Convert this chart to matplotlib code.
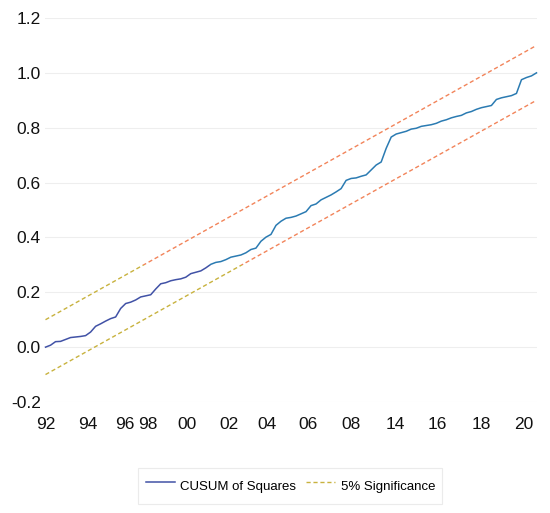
import numpy as np
import matplotlib
matplotlib.use("Agg")
import matplotlib.pyplot as plt
from matplotlib.patches import Rectangle
from matplotlib.lines import Line2D

plt.rcParams['font.family'] = ['Liberation Sans Narrow', 'Liberation Sans', 'DejaVu Sans']

cusum = [0.000, 0.007, 0.020, 0.021, 0.028, 0.035, 0.037, 0.039, 0.042, 0.055,
         0.076, 0.085, 0.095, 0.104, 0.110, 0.141, 0.159, 0.164, 0.172, 0.183,
         0.187, 0.191, 0.212, 0.231, 0.235, 0.242, 0.246, 0.249, 0.255, 0.268,
         0.273, 0.278, 0.289, 0.302, 0.309, 0.312, 0.319, 0.328, 0.332, 0.336,
         0.344, 0.356, 0.361, 0.386, 0.401, 0.411, 0.444, 0.459, 0.470, 0.473,
         0.478, 0.486, 0.494, 0.516, 0.522, 0.537, 0.546, 0.555, 0.566, 0.578,
         0.608, 0.615, 0.617, 0.623, 0.628, 0.646, 0.664, 0.675, 0.725, 0.766,
         0.777, 0.782, 0.787, 0.795, 0.798, 0.805, 0.808, 0.811, 0.816, 0.824,
         0.829, 0.836, 0.841, 0.845, 0.854, 0.859, 0.867, 0.873, 0.877, 0.881,
         0.903, 0.909, 0.913, 0.917, 0.925, 0.975, 0.983, 0.989, 1.000]
band_c = 0.1
tick_labels = ["92", "94", "96", "98", "00", "02", "04", "06", "08", "14", "16", "18", "20"]
tick_obs = [0, 8.4, 15.9, 20.4, 28.2, 36.7, 44.2, 52.4, 61.0, 69.9, 78.2, 87.0, 95.5]
yticks = [-0.2, 0.0, 0.2, 0.4, 0.6, 0.8, 1.0, 1.2]

n = len(cusum)
obs = np.arange(n)
expected = obs / (n - 1)
upper = expected + band_c
lower = expected - band_c

fig = plt.figure(figsize=(5.5, 5.13), dpi=100)
ax = fig.add_axes([45/550, 1-402/513, (537-45)/550, (402-18)/513])

split = 0.30
line_lo, line_hi = "#4152a6", "#2b7bb2"
dash_lo, dash_hi = "#c8b23e", "#f2845a"

def two_tone(x, y, c_lo, c_hi, **kw):
    l1, = ax.plot(x, y, color=c_lo, **kw)
    l2, = ax.plot(x, y, color=c_hi, **kw)
    r1 = Rectangle((-10, -10), 200, 10 + split, transform=ax.transData)
    r2 = Rectangle((-10, split), 200, 20, transform=ax.transData)
    l1.set_clip_path(r1)
    l2.set_clip_path(r2)
    return l1

two_tone(obs, cusum, line_lo, line_hi, lw=1.1, zorder=3)
two_tone(obs, upper, dash_lo, dash_hi, lw=1.0, ls=(0, (3, 2)), zorder=2)
two_tone(obs, lower, dash_lo, dash_hi, lw=1.0, ls=(0, (3, 2)), zorder=2)

ax.set_xlim(-0.1, n - 1 + 0.1)
ax.set_ylim(-0.2, 1.2)
ax.set_yticks(yticks)
ax.set_yticklabels([f"{v:.1f}" for v in yticks])
ax.set_xticks(tick_obs)
ax.set_xticklabels(tick_labels)
ax.tick_params(axis='both', length=0, labelsize=12.5, colors="#111111")
ax.tick_params(axis='y', pad=3)
ax.tick_params(axis='x', pad=11)
ax.grid(axis='y', color="#eeeeee", lw=0.8)
for s in ax.spines.values():
    s.set_visible(False)

hl1 = Line2D([], [], color=line_lo, lw=1.1)
hl2 = Line2D([], [], color=dash_lo, lw=1.0, ls=(0, (3, 2)))
leg = fig.legend([hl1, hl2], ["CUSUM of Squares", "5% Significance"],
                 loc="center", bbox_to_anchor=(0.528, 0.053), ncol=2,
                 fontsize=9.5, frameon=True, fancybox=False, edgecolor="#e6e6e6",
                 handlelength=2.2, handleheight=2.2, handletextpad=0.4,
                 columnspacing=0.8, borderpad=0.55, borderaxespad=0)
leg.get_frame().set_linewidth(0.8)

fig.savefig("out.png", dpi=100)
